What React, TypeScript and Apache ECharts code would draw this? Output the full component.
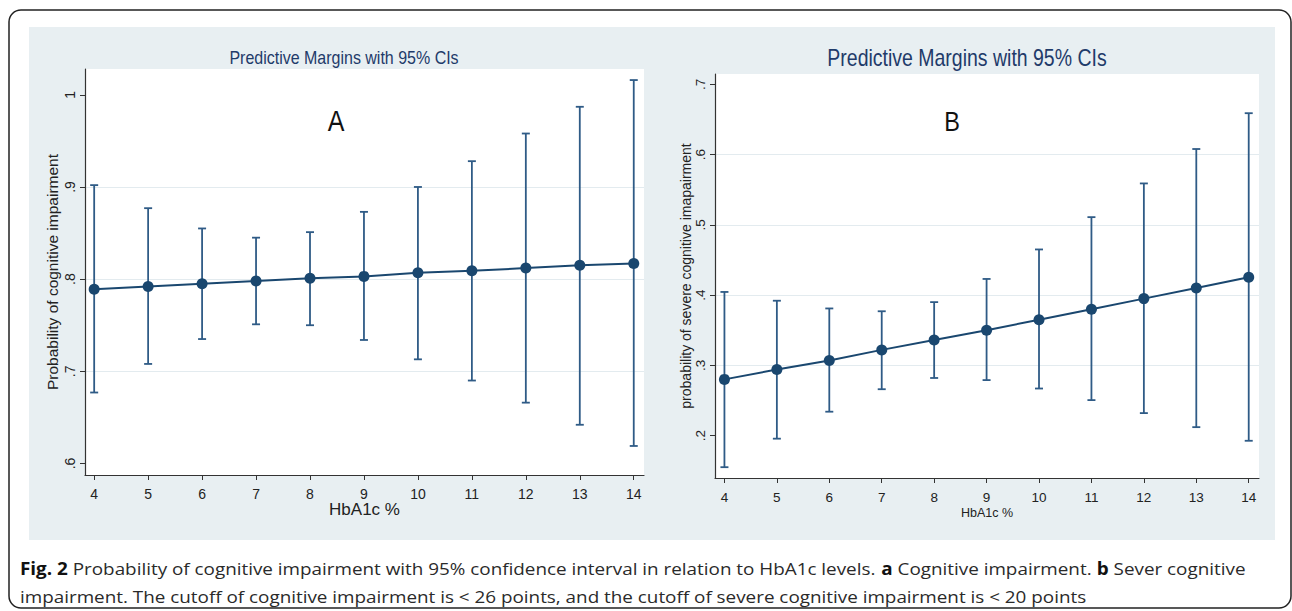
import React, { useEffect, useRef } from "react";
import * as echarts from "echarts";

// ---- data ----
const hba1c = [4, 5, 6, 7, 8, 9, 10, 11, 12, 13, 14];
const xTicks = [4, 5, 6, 7, 8, 9, 10, 11, 12, 13, 14];

// Panel A: probability of cognitive impairment
const estA = [0.789, 0.792, 0.795, 0.798, 0.801, 0.803, 0.807, 0.809, 0.812, 0.815, 0.817];
const lowA = [0.677, 0.708, 0.735, 0.751, 0.75, 0.734, 0.713, 0.69, 0.666, 0.642, 0.619];
const highA = [0.902, 0.877, 0.855, 0.845, 0.851, 0.873, 0.9, 0.928, 0.958, 0.987, 1.016];
const yTicksA = [0.6, 0.7, 0.8, 0.9, 1.0];

// Panel B: probability of severe cognitive impairment
const estB = [0.28, 0.294, 0.307, 0.322, 0.336, 0.35, 0.365, 0.38, 0.395, 0.41, 0.4255];
const lowB = [0.155, 0.1956, 0.234, 0.266, 0.282, 0.279, 0.267, 0.2505, 0.232, 0.212, 0.1926];
const highB = [0.4045, 0.392, 0.381, 0.377, 0.39, 0.423, 0.465, 0.511, 0.559, 0.608, 0.659];
const yTicksB = [0.2, 0.3, 0.4, 0.5, 0.6, 0.7];

const titleText = "Predictive Margins with 95% CIs";
const xName = "HbA1c %";
const yNameA = "Probability of cognitive impairment";
const yNameB = "probability of severe cognitive imapairment";
const captionLine1 =
  "{b|Fig. 2} Probability of cognitive impairment with 95% confidence interval in relation to HbA1c levels. {b|a} Cognitive impairment. {b|b} Sever cognitive";
const captionLine2 =
  "impairment. The cutoff of cognitive impairment is < 26 points, and the cutoff of severe cognitive impairment is < 20 points";

const NAVY = "#1a476f";
const BAR = "#2f5b86";
const FONT = "Liberation Sans, Arial, sans-serif";
const CAPFONT = '"Open Sans", sans-serif';

const fmtTick = (v: number) => {
  const s = String(Math.round(v * 10) / 10);
  return s.startsWith("0.") ? s.slice(1) : s;
};

function errorBarRender(params: any, api: any) {
  const x = api.value(0);
  const lo = api.value(1);
  const hi = api.value(2);
  const p1 = api.coord([x, hi]);
  const p2 = api.coord([x, lo]);
  const w = 4;
  const style = { stroke: BAR, lineWidth: 1.8 };
  return {
    type: "group",
    children: [
      { type: "line", shape: { x1: p1[0], y1: p1[1], x2: p2[0], y2: p2[1] }, style },
      { type: "line", shape: { x1: p1[0] - w, y1: p1[1], x2: p1[0] + w, y2: p1[1] }, style },
      { type: "line", shape: { x1: p2[0] - w, y1: p2[1], x2: p2[0] + w, y2: p2[1] }, style },
    ],
  };
}

function makeX(gridIndex: number, min: number, max: number, labelSize: number, nameSize: number, nameGap: number) {
  return {
    type: "value",
    gridIndex,
    min,
    max,
    name: xName,
    nameLocation: "middle",
    nameGap,
    nameMoveOverlap: false,
    nameTextStyle: { fontSize: nameSize, color: "#222", fontFamily: FONT },
    axisLine: { show: true, lineStyle: { color: "#333", width: 1.2 } },
    axisTick: { show: true, customValues: xTicks, length: 5, lineStyle: { color: "#333" } },
    axisLabel: {
      customValues: xTicks,
      fontSize: labelSize,
      color: "#222",
      margin: 12,
      fontFamily: FONT,
    },
    splitLine: { show: false },
  };
}

function makeY(gridIndex: number, min: number, max: number, ticks: number[], name: string, nameSize: number, labelSize: number, nameGap: number) {
  return {
    type: "value",
    gridIndex,
    min,
    max,
    name,
    nameLocation: "middle",
    nameGap,
    nameMoveOverlap: false,
    nameTextStyle: { fontSize: nameSize, color: "#222", fontFamily: FONT },
    axisLine: { show: true, lineStyle: { color: "#333", width: 1.2 } },
    axisTick: { show: true, customValues: ticks, length: 5, lineStyle: { color: "#333" } },
    axisLabel: {
      customValues: ticks,
      rotate: 90,
      fontSize: labelSize,
      color: "#222",
      margin: 8,
      fontFamily: FONT,
      formatter: (v: number) => fmtTick(v),
    },
    splitLine: {
      show: true,
      showMinLine: false,
      showMaxLine: false,
      lineStyle: { color: "#e3ebef", width: 1.2 },
    },
  };
}

export default function App() {
  const ref = useRef<HTMLDivElement>(null);

  useEffect(() => {
    if (!ref.current) return;
    const chart = echarts.init(ref.current, null, { renderer: "svg" });

    const option: any = {
      animation: false,
      backgroundColor: "#ffffff",
      graphic: [
        {
          type: "rect",
          z: -10,
          shape: { x: 9, y: 10, width: 1282, height: 598, r: 12 },
          style: { fill: "none", stroke: "#222", lineWidth: 1.5 },
          silent: true,
        },
        {
          type: "rect",
          z: -9,
          shape: { x: 29, y: 27, width: 1246, height: 513 },
          style: { fill: "#e8eff2" },
          silent: true,
        },
        {
          type: "text",
          x: 344,
          y: 57,
          scaleY: 1.2,
          style: { text: titleText, fill: "#1f3b6a", font: `16px ${FONT}`, align: "center", verticalAlign: "middle" },
        },
        {
          type: "text",
          x: 967,
          y: 58.5,
          scaleY: 1.2,
          style: { text: titleText, fill: "#1f3b6a", font: `19.5px ${FONT}`, align: "center", verticalAlign: "middle" },
        },
        {
          type: "text",
          x: 336,
          y: 121,
          scaleY: 1.2,
          style: { text: "A", fill: "#111", font: `25px ${FONT}`, align: "center", verticalAlign: "middle" },
        },
        {
          type: "text",
          x: 952,
          y: 121,
          scaleY: 1.2,
          style: { text: "B", fill: "#111", font: `23.5px ${FONT}`, align: "center", verticalAlign: "middle" },
        },
        {
          type: "text",
          x: 20,
          y: 568,
          scaleX: 1.11,
          style: {
            text: captionLine1,
            fill: "#2a2a2a",
            font: `17px ${CAPFONT}`,
            verticalAlign: "middle",
            rich: {
              b: { fontWeight: "bold", fontSize: 17, fontFamily: CAPFONT, fill: "#111" },
            },
          },
        },
        {
          type: "text",
          x: 20,
          y: 596,
          scaleX: 1.11,
          style: {
            text: captionLine2,
            fill: "#2a2a2a",
            font: `17px ${CAPFONT}`,
            verticalAlign: "middle",
          },
        },
      ],
      grid: [
        { left: 85, top: 69, width: 559, height: 406, show: true, backgroundColor: "#ffffff", borderWidth: 0 },
        { left: 715, top: 74, width: 544, height: 404, show: true, backgroundColor: "#ffffff", borderWidth: 0 },
      ],
      xAxis: [makeX(0, 3.83, 14.19, 14, 17, 26), makeX(1, 3.82, 14.196, 13.5, 12.5, 28)],
      yAxis: [
        makeY(0, 0.5875, 1.028, yTicksA, yNameA, 15.5, 14, 25),
        makeY(1, 0.1396, 0.7148, yTicksB, yNameB, 14, 13.5, 22),
      ],
      series: [
        {
          type: "custom",
          xAxisIndex: 0,
          yAxisIndex: 0,
          renderItem: errorBarRender,
          encode: { x: 0, y: [1, 2] },
          data: hba1c.map((x, i) => [x, lowA[i], highA[i]]),
          z: 2,
        },
        {
          type: "line",
          xAxisIndex: 0,
          yAxisIndex: 0,
          data: hba1c.map((x, i) => [x, estA[i]]),
          symbol: "circle",
          symbolSize: 11,
          itemStyle: { color: NAVY },
          lineStyle: { color: NAVY, width: 2 },
          z: 3,
        },
        {
          type: "custom",
          xAxisIndex: 1,
          yAxisIndex: 1,
          renderItem: errorBarRender,
          encode: { x: 0, y: [1, 2] },
          data: hba1c.map((x, i) => [x, lowB[i], highB[i]]),
          z: 2,
        },
        {
          type: "line",
          xAxisIndex: 1,
          yAxisIndex: 1,
          data: hba1c.map((x, i) => [x, estB[i]]),
          symbol: "circle",
          symbolSize: 11,
          itemStyle: { color: NAVY },
          lineStyle: { color: NAVY, width: 2 },
          z: 3,
        },
      ],
    };

    chart.setOption(option);
    return () => chart.dispose();
  }, []);

  return (
    <div
      ref={ref}
      style={{ position: "fixed", left: 0, top: 0, width: 1292, height: 611 }}
    />
  );
}
